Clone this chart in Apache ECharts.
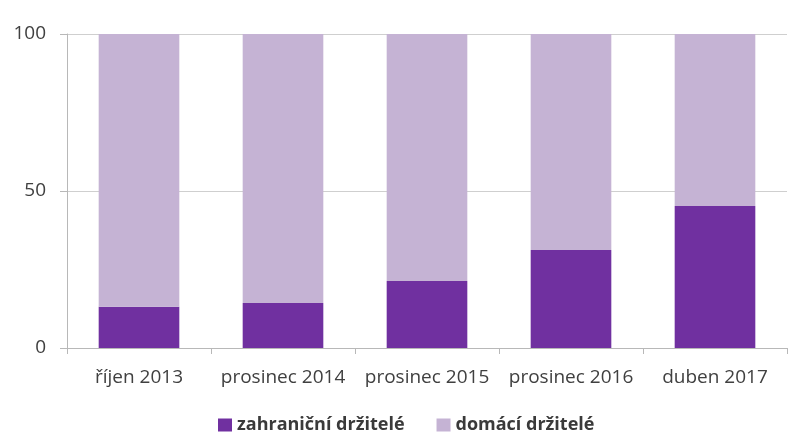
<!DOCTYPE html>
<html>
<head>
<meta charset="utf-8">
<script src="https://cdn.jsdelivr.net/npm/echarts@6/dist/echarts.min.js"></script>
<style>
  html, body { margin: 0; padding: 0; background: #fff; }
  #chart { width: 788px; height: 439px; }
</style>
</head>
<body>
<div id="chart"></div>
<script>
const categories = ['říjen 2013', 'prosinec 2014', 'prosinec 2015', 'prosinec 2016', 'duben 2017']
const zahranicni = [13.1, 14.3, 21.3, 31.2, 45.2]
const domaci = [86.9, 85.7, 78.7, 68.8, 54.8]

const chart = echarts.init(document.getElementById('chart'))

const font = "'Open Sans', sans-serif"

chart.setOption({
  animation: false,
  textStyle: { fontFamily: font },
  grid: { left: 67, right: 1, top: 34, bottom: 91 },
  legend: {
    top: 411,
    left: 213,
    itemWidth: 14,
    itemHeight: 13,
    itemGap: 32,
    icon: 'rect',
    textStyle: { fontSize: 18, fontWeight: 'bold', color: '#3a3a3a', fontFamily: font },
    data: ['zahraniční držitelé', 'domácí držitelé'],
  },
  xAxis: {
    type: 'category',
    data: categories,
    axisLine: { lineStyle: { color: '#b8b8b8' } },
    axisTick: { show: true, interval: 0, length: 6, lineStyle: { color: '#b8b8b8' } },
    axisLabel: { interval: 0, hideOverlap: false, fontSize: 19, color: '#404040', margin: 20 },
  },
  yAxis: {
    type: 'value',
    min: 0,
    max: 100,
    interval: 50,
    axisLine: { show: true, lineStyle: { color: '#b8b8b8' } },
    axisTick: { show: true, length: 7, lineStyle: { color: '#b8b8b8' } },
    axisLabel: { fontSize: 19, color: '#404040', margin: 21 },
    splitLine: { lineStyle: { color: '#cfcfcf' } },
  },
  series: [
    {
      name: 'zahraniční držitelé',
      type: 'bar',
      stack: 'total',
      barWidth: '56%',
      data: zahranicni,
      itemStyle: { color: '#7030a0' },
    },
    {
      name: 'domácí držitelé',
      type: 'bar',
      stack: 'total',
      data: domaci,
      itemStyle: { color: '#c5b3d4' },
    },
  ],
})
</script>
</body>
</html>
